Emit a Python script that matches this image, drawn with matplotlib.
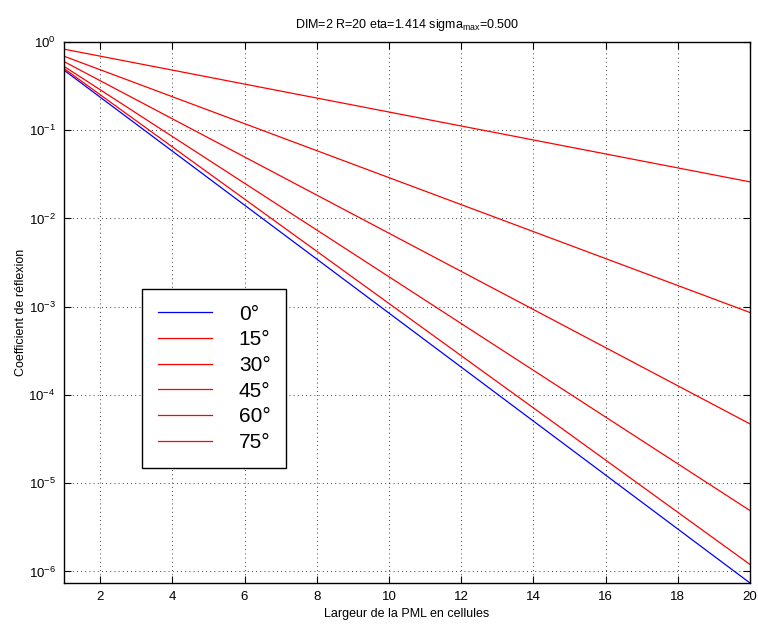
import matplotlib
matplotlib.use("Agg")
import matplotlib.pyplot as plt
from matplotlib.ticker import NullLocator, FixedLocator

plt.rcParams["font.family"] = ["Liberation Sans", "DejaVu Sans"]

# PML width (cells), end points of each curve
widths = [1, 20]
angles = ["0°", "15°", "30°", "45°", "60°", "75°"]
r_0 = [0.48, 7.4e-7]
r_15 = [0.50, 1.2e-6]
r_30 = [0.53, 4.9e-6]
r_45 = [0.60, 4.7e-5]
r_60 = [0.69, 8.6e-4]
r_75 = [0.83, 2.6e-2]
series = [r_0, r_15, r_30, r_45, r_60, r_75]
colors = ["blue", "red", "red", "red", "red", "red"]
yticks = [1e-6, 1e-5, 1e-4, 1e-3, 1e-2, 1e-1, 1e0]

fig = plt.figure(figsize=(7.58, 6.26), dpi=100)
ax = fig.add_axes([64 / 758, 1 - 583 / 626, (750 - 64) / 758, (583 - 42) / 626])

for vals, lab, c in zip(series, angles, colors):
    ax.semilogy(widths, vals, color=c, linewidth=0.9, label=lab)

ax.set_xlim(1, 20)
ax.set_ylim(7.4e-7, 1)
ax.xaxis.set_major_locator(FixedLocator(range(2, 21, 2)))
ax.yaxis.set_major_locator(FixedLocator(yticks))
ax.yaxis.set_minor_locator(NullLocator())
ax.tick_params(direction="in", length=5, width=0.8, labelsize=9.5, pad=6,
               top=True, right=True)
ax.grid(True, which="major", color="black", linestyle=(0, (1, 4)), linewidth=0.6)
for s in ax.spines.values():
    s.set_linewidth(1.0)

ax.set_title(r"DIM=2 R=20 eta=1.414 sigma$_{\mathregular{max}}$=0.500",
             fontsize=9, pad=10)
ax.set_xlabel("Largeur de la PML en cellules", fontsize=9, labelpad=3)
ax.set_ylabel("Coefficient de réflexion", fontsize=9, labelpad=1)

leg = ax.legend(loc="upper left", bbox_to_anchor=(142 / 758, 1 - 289 / 626),
                bbox_transform=fig.transFigure, borderaxespad=0,
                fontsize=15, handlelength=2.6, handletextpad=1.3,
                labelspacing=0.32, borderpad=0.75, fancybox=False,
                framealpha=1, edgecolor="black")
leg.get_frame().set_linewidth(1.0)

fig.savefig("out.png", dpi=100)
